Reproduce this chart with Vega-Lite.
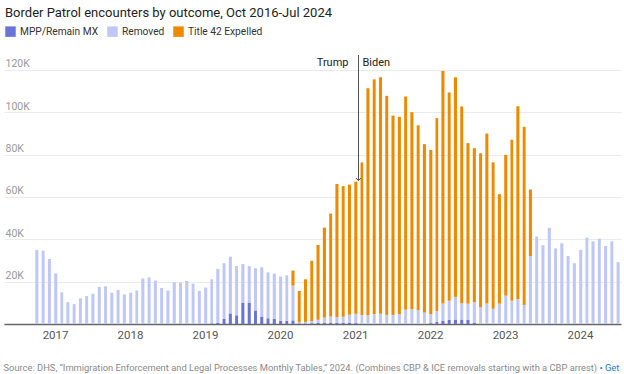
{
  "$schema": "https://vega.github.io/schema/vega-lite/v6.json",
  "width": 617,
  "height": 269,
  "autosize": "none",
  "padding": {"left": 4, "top": 55, "right": 3, "bottom": 50},
  "background": "white",
  "config": {
    "view": {"stroke": null},
    "font": "Roboto",
    "title": {"font": "Roboto"},
    "axis": {"labelFont": "Roboto", "titleFont": "Roboto"},
    "legend": {"labelFont": "Roboto"}
  },
  "title": {
    "text": "Border Patrol encounters by outcome, Oct 2016-Jul 2024",
    "anchor": "start",
    "frame": "group",
    "fontSize": 13,
    "fontWeight": "normal",
    "color": "#222222",
    "dx": 1,
    "offset": 6
  },
  "datasets": {
    "monthly": [
      {"date": "2016-10-01", "mpp": 0, "removed": 35000, "title42": 0},
      {"date": "2016-11-01", "mpp": 0, "removed": 34600, "title42": 0},
      {"date": "2016-12-01", "mpp": 0, "removed": 30700, "title42": 0},
      {"date": "2017-01-01", "mpp": 0, "removed": 23900, "title42": 0},
      {"date": "2017-02-01", "mpp": 0, "removed": 15000, "title42": 0},
      {"date": "2017-03-01", "mpp": 0, "removed": 10300, "title42": 0},
      {"date": "2017-04-01", "mpp": 0, "removed": 9400, "title42": 0},
      {"date": "2017-05-01", "mpp": 0, "removed": 12100, "title42": 0},
      {"date": "2017-06-01", "mpp": 0, "removed": 13200, "title42": 0},
      {"date": "2017-07-01", "mpp": 0, "removed": 14300, "title42": 0},
      {"date": "2017-08-01", "mpp": 0, "removed": 17500, "title42": 0},
      {"date": "2017-09-01", "mpp": 0, "removed": 17800, "title42": 0},
      {"date": "2017-10-01", "mpp": 0, "removed": 14800, "title42": 0},
      {"date": "2017-11-01", "mpp": 0, "removed": 16100, "title42": 0},
      {"date": "2017-12-01", "mpp": 0, "removed": 14000, "title42": 0},
      {"date": "2018-01-01", "mpp": 0, "removed": 14700, "title42": 0},
      {"date": "2018-02-01", "mpp": 0, "removed": 15800, "title42": 0},
      {"date": "2018-03-01", "mpp": 0, "removed": 21500, "title42": 0},
      {"date": "2018-04-01", "mpp": 0, "removed": 22000, "title42": 0},
      {"date": "2018-05-01", "mpp": 0, "removed": 20500, "title42": 0},
      {"date": "2018-06-01", "mpp": 0, "removed": 17000, "title42": 0},
      {"date": "2018-07-01", "mpp": 0, "removed": 15800, "title42": 0},
      {"date": "2018-08-01", "mpp": 0, "removed": 19700, "title42": 0},
      {"date": "2018-09-01", "mpp": 0, "removed": 19500, "title42": 0},
      {"date": "2018-10-01", "mpp": 0, "removed": 20300, "title42": 0},
      {"date": "2018-11-01", "mpp": 0, "removed": 19000, "title42": 0},
      {"date": "2018-12-01", "mpp": 0, "removed": 15600, "title42": 0},
      {"date": "2019-01-01", "mpp": 0, "removed": 17200, "title42": 0},
      {"date": "2019-02-01", "mpp": 300, "removed": 20800, "title42": 0},
      {"date": "2019-03-01", "mpp": 500, "removed": 25500, "title42": 0},
      {"date": "2019-04-01", "mpp": 2400, "removed": 26300, "title42": 0},
      {"date": "2019-05-01", "mpp": 5000, "removed": 26800, "title42": 0},
      {"date": "2019-06-01", "mpp": 4100, "removed": 23300, "title42": 0},
      {"date": "2019-07-01", "mpp": 10100, "removed": 18200, "title42": 0},
      {"date": "2019-08-01", "mpp": 10100, "removed": 17200, "title42": 0},
      {"date": "2019-09-01", "mpp": 6400, "removed": 19900, "title42": 0},
      {"date": "2019-10-01", "mpp": 3500, "removed": 23300, "title42": 0},
      {"date": "2019-11-01", "mpp": 2700, "removed": 21700, "title42": 0},
      {"date": "2019-12-01", "mpp": 2400, "removed": 21400, "title42": 0},
      {"date": "2020-01-01", "mpp": 1400, "removed": 21000, "title42": 0},
      {"date": "2020-02-01", "mpp": 1500, "removed": 21500, "title42": 0},
      {"date": "2020-03-01", "mpp": 1700, "removed": 16400, "title42": 7100},
      {"date": "2020-04-01", "mpp": 300, "removed": 500, "title42": 14800},
      {"date": "2020-05-01", "mpp": 300, "removed": 700, "title42": 20100},
      {"date": "2020-06-01", "mpp": 400, "removed": 1000, "title42": 28400},
      {"date": "2020-07-01", "mpp": 500, "removed": 1500, "title42": 35300},
      {"date": "2020-08-01", "mpp": 600, "removed": 2400, "title42": 42500},
      {"date": "2020-09-01", "mpp": 600, "removed": 2900, "title42": 48600},
      {"date": "2020-10-01", "mpp": 600, "removed": 2700, "title42": 62800},
      {"date": "2020-11-01", "mpp": 600, "removed": 2800, "title42": 61700},
      {"date": "2020-12-01", "mpp": 500, "removed": 3900, "title42": 61400},
      {"date": "2021-01-01", "mpp": 400, "removed": 4400, "title42": 62400},
      {"date": "2021-02-01", "mpp": 100, "removed": 4100, "title42": 72100},
      {"date": "2021-03-01", "mpp": 0, "removed": 4200, "title42": 107100},
      {"date": "2021-04-01", "mpp": 0, "removed": 4700, "title42": 110800},
      {"date": "2021-05-01", "mpp": 0, "removed": 4800, "title42": 111700},
      {"date": "2021-06-01", "mpp": 0, "removed": 4300, "title42": 103400},
      {"date": "2021-07-01", "mpp": 0, "removed": 4300, "title42": 94100},
      {"date": "2021-08-01", "mpp": 0, "removed": 4700, "title42": 93100},
      {"date": "2021-09-01", "mpp": 0, "removed": 6800, "title42": 100600},
      {"date": "2021-10-01", "mpp": 0, "removed": 7000, "title42": 93000},
      {"date": "2021-11-01", "mpp": 0, "removed": 6500, "title42": 87300},
      {"date": "2021-12-01", "mpp": 0, "removed": 5400, "title42": 79500},
      {"date": "2022-01-01", "mpp": 400, "removed": 4300, "title42": 77500},
      {"date": "2022-02-01", "mpp": 1000, "removed": 5100, "title42": 91100},
      {"date": "2022-03-01", "mpp": 1600, "removed": 8100, "title42": 109800},
      {"date": "2022-04-01", "mpp": 2000, "removed": 9000, "title42": 98300},
      {"date": "2022-05-01", "mpp": 2100, "removed": 10700, "title42": 103700},
      {"date": "2022-06-01", "mpp": 2100, "removed": 7700, "title42": 92900},
      {"date": "2022-07-01", "mpp": 2000, "removed": 7600, "title42": 75800},
      {"date": "2022-08-01", "mpp": 600, "removed": 9700, "title42": 72700},
      {"date": "2022-09-01", "mpp": 100, "removed": 7900, "title42": 72600},
      {"date": "2022-10-01", "mpp": 0, "removed": 9700, "title42": 80200},
      {"date": "2022-11-01", "mpp": 0, "removed": 7200, "title42": 69100},
      {"date": "2022-12-01", "mpp": 0, "removed": 9600, "title42": 51700},
      {"date": "2023-01-01", "mpp": 0, "removed": 13400, "title42": 66400},
      {"date": "2023-02-01", "mpp": 0, "removed": 11000, "title42": 76000},
      {"date": "2023-03-01", "mpp": 0, "removed": 11800, "title42": 91000},
      {"date": "2023-04-01", "mpp": 0, "removed": 9000, "title42": 84100},
      {"date": "2023-05-01", "mpp": 0, "removed": 32000, "title42": 31500},
      {"date": "2023-06-01", "mpp": 0, "removed": 41300, "title42": 0},
      {"date": "2023-07-01", "mpp": 0, "removed": 37200, "title42": 0},
      {"date": "2023-08-01", "mpp": 0, "removed": 45400, "title42": 0},
      {"date": "2023-09-01", "mpp": 0, "removed": 35700, "title42": 0},
      {"date": "2023-10-01", "mpp": 0, "removed": 38100, "title42": 0},
      {"date": "2023-11-01", "mpp": 0, "removed": 32100, "title42": 0},
      {"date": "2023-12-01", "mpp": 0, "removed": 28700, "title42": 0},
      {"date": "2024-01-01", "mpp": 0, "removed": 35000, "title42": 0},
      {"date": "2024-02-01", "mpp": 0, "removed": 40800, "title42": 0},
      {"date": "2024-03-01", "mpp": 0, "removed": 39000, "title42": 0},
      {"date": "2024-04-01", "mpp": 0, "removed": 40300, "title42": 0},
      {"date": "2024-05-01", "mpp": 0, "removed": 36800, "title42": 0},
      {"date": "2024-06-01", "mpp": 0, "removed": 39000, "title42": 0},
      {"date": "2024-07-01", "mpp": 0, "removed": 29200, "title42": 0}
    ],
    "annot": [
      {"date": "2021-02-01", "before": "Trump", "after": "Biden"}
    ]
  },
  "layer": [
    {
      "data": {"name": "monthly"},
      "transform": [{"fold": ["mpp", "removed", "title42"], "as": ["outcome", "count"]}],
      "mark": {"type": "bar", "width": {"band": 0.64}},
      "encoding": {
        "x": {
          "field": "date",
          "timeUnit": "utcyearmonth",
          "type": "temporal",
          "scale": {
            "type": "utc",
            "domain": [
              {"year": 2016, "month": 5, "date": 12, "utc": true},
              {"year": 2024, "month": 8, "date": 2, "utc": true}
            ]
          },
          "axis": {
            "title": "Source: DHS, “Immigration Enforcement and Legal Processes Monthly Tables,” 2024. (Combines CBP & ICE removals starting with a CBP arrest)",
            "titleFontSize": 9.35,
            "titleFontWeight": "normal",
            "titleColor": "#8a8a8a",
            "titleAnchor": "start",
            "titleAlign": "left",
            "titleBaseline": "alphabetic",
            "titleX": -1,
            "titleY": 46,
            "values": [
              {"year": 2017, "month": 1, "date": 1, "utc": true},
              {"year": 2018, "month": 1, "date": 1, "utc": true},
              {"year": 2019, "month": 1, "date": 1, "utc": true},
              {"year": 2020, "month": 1, "date": 1, "utc": true},
              {"year": 2021, "month": 1, "date": 1, "utc": true},
              {"year": 2022, "month": 1, "date": 1, "utc": true},
              {"year": 2023, "month": 1, "date": 1, "utc": true},
              {"year": 2024, "month": 1, "date": 1, "utc": true}
            ],
            "labelExpr": "utcFormat(datum.value, '%Y')",
            "labelFontSize": 11.5,
            "labelColor": "#555555",
            "labelPadding": 5,
            "labelOffset": 3,
            "ticks": false,
            "grid": false,
            "domainColor": "#666666",
            "domainWidth": 1.5
          }
        },
        "y": {
          "field": "count",
          "type": "quantitative",
          "stack": "zero",
          "scale": {"domain": [0, 127000], "nice": false},
          "axis": {
            "title": "• Get",
            "titleAngle": 0,
            "titleX": 595,
            "titleY": 315,
            "titleAlign": "left",
            "titleBaseline": "alphabetic",
            "titleFontSize": 9.35,
            "titleFontWeight": "normal",
            "titleColor": "#2a78d0",
            "values": [0, 20000, 40000, 60000, 80000, 100000, 120000],
            "labelExpr": "datum.value == 0 ? '' : (datum.value / 1000) + 'K'",
            "labelAlign": "left",
            "labelBaseline": "alphabetic",
            "labelPadding": -1,
            "labelOffset": -3,
            "labelFontSize": 10.5,
            "labelColor": "#9a9a9a",
            "ticks": false,
            "tickSize": 0,
            "domain": false,
            "grid": true,
            "gridColor": "#ebebeb",
            "gridWidth": 1
          }
        },
        "color": {
          "field": "outcome",
          "type": "nominal",
          "scale": {
            "domain": ["mpp", "removed", "title42"],
            "range": ["#6a74d8", "#bfc7f7", "#ee8a00"]
          },
          "legend": {
            "orient": "none",
            "legendX": 1,
            "legendY": -29,
            "direction": "horizontal",
            "title": null,
            "symbolType": "square",
            "symbolSize": 110,
            "symbolStrokeWidth": 0,
            "labelFontSize": 10.2,
            "labelColor": "#333333",
            "labelOffset": 4,
            "columnPadding": 8,
            "labelExpr": "datum.value == 'mpp' ? 'MPP/Remain MX' : datum.value == 'removed' ? 'Removed' : 'Title 42 Expelled'"
          }
        },
        "order": {"field": "outcome", "sort": "ascending"}
      }
    },
    {
      "data": {"name": "annot"},
      "mark": {"type": "rule", "color": "#555555", "strokeWidth": 1},
      "encoding": {
        "x": {"field": "date", "type": "temporal"},
        "y": {"datum": 127000},
        "y2": {"datum": 67700}
      }
    },
    {
      "data": {"name": "annot"},
      "mark": {"type": "point", "shape": "M-0.8,-0.8L0,0L0.8,-0.8", "size": 40, "filled": false, "color": "#444444", "strokeWidth": 1, "opacity": 1},
      "encoding": {
        "x": {"field": "date", "type": "temporal"},
        "y": {"datum": 67700}
      }
    },
    {
      "data": {"name": "annot"},
      "mark": {"type": "text", "align": "right", "baseline": "alphabetic", "dx": -10, "fontSize": 11, "color": "#222222"},
      "encoding": {
        "x": {"field": "date", "type": "temporal"},
        "y": {"datum": 121600},
        "text": {"field": "before"}
      }
    },
    {
      "data": {"name": "annot"},
      "mark": {"type": "text", "align": "left", "baseline": "alphabetic", "dx": 4, "fontSize": 11, "color": "#222222"},
      "encoding": {
        "x": {"field": "date", "type": "temporal"},
        "y": {"datum": 121600},
        "text": {"field": "after"}
      }
    }
  ]
}
